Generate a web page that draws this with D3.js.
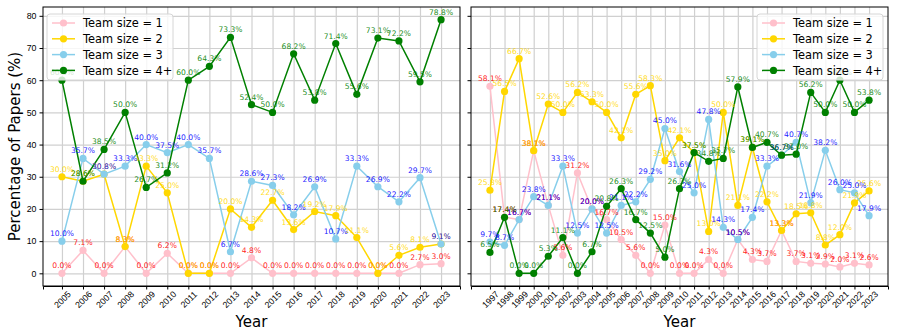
<!DOCTYPE html>
<html>
<head>
<meta charset="utf-8">
<script src="https://cdn.jsdelivr.net/npm/d3@7"></script>
<style>
  body { margin: 0; background: #fff; }
  svg { display: block; font-family: "DejaVu Sans", sans-serif; }
  .grid line { stroke: #d0d0d0; stroke-width: 1.2; }
  .grid path { display: none; }
  .axis path, .axis line { stroke: #000; }
  .axis text { font-size: 8.8px; fill: #000; }
</style>
</head>
<body>
<div id="chart"></div>
<script>
// series names and colours
var seriesNames = ['Team size = 1', 'Team size = 2', 'Team size = 3', 'Team size = 4+'];
var lineColors = ['pink', '#FFD700', 'skyblue', 'green'];
var textColors = ['red', '#FFD700', 'blue', 'green'];

// left panel
var yearsLeft = [2005, 2006, 2007, 2008, 2009, 2010, 2011, 2012, 2013, 2014,
	2015, 2016, 2017, 2018, 2019, 2020, 2021, 2022, 2023];
var leftSize1 = [0.0, 7.1, 0.0, 8.3, 0.0, 6.2, 0.0, 0.0, 0.0, 4.8, 0.0, 0.0, 0.0, 0.0, 0.0, 0.0, 0.0, 2.7, 3.0];
var leftSize2 = [30.0, 28.6, 30.8, 8.3, 33.3, 25.0, 0.0, 0.0, 20.0, 14.3, 22.7, 13.6, 19.2, 17.9, 11.1, 0.0, 5.6, 8.1, 9.1];
var leftSize3 = [10.0, 35.7, 30.8, 33.3, 40.0, 37.5, 40.0, 35.7, 6.7, 28.6, 27.3, 18.2, 26.9, 10.7, 33.3, 26.9, 22.2, 29.7, 9.1];
var leftSize4 = [60.0, 28.6, 38.5, 50.0, 26.7, 31.2, 60.0, 64.3, 73.3, 52.4, 50.0, 68.2, 53.8, 71.4, 55.6, 73.1, 72.2, 59.5, 78.8];

// right panel
var yearsRight = [1997, 1998, 1999, 2000, 2001, 2002, 2003, 2004, 2005, 2006,
	2007, 2008, 2009, 2010, 2011, 2012, 2013, 2014, 2015, 2016,
	2017, 2018, 2019, 2020, 2021, 2022, 2023];
var rightSize1 = [58.1, 17.4, 16.7, 38.1, 21.1, 5.6, 31.2, 20.0, 16.7, 10.5, 5.6, 0.0, 15.0, 0.0, 0.0, 4.3, 0.0, 10.5, 4.3, 3.7, 13.3, 3.7, 3.1, 2.9, 2.0, 3.1, 2.6];
var rightSize2 = [25.8, 56.5, 66.7, 38.1, 52.6, 50.0, 56.2, 53.3, 50.0, 42.1, 55.6, 58.3, 35.0, 42.1, 37.5, 13.0, 50.0, 21.1, 39.1, 22.2, 13.3, 18.5, 18.8, 8.8, 12.0, 21.9, 25.6];
var rightSize3 = [9.7, 8.7, 16.7, 23.8, 21.1, 33.3, 12.5, 20.0, 12.5, 21.1, 22.2, 29.2, 45.0, 31.6, 25.0, 47.8, 14.3, 10.5, 17.4, 33.3, 36.7, 40.7, 21.9, 38.2, 26.0, 25.0, 17.9];
var rightSize4 = [6.5, 17.4, 0.0, 0.0, 5.3, 11.1, 0.0, 6.7, 20.8, 26.3, 16.7, 12.5, 5.0, 26.3, 37.5, 34.8, 35.7, 57.9, 39.1, 40.7, 36.7, 37.0, 56.2, 50.0, 60.0, 50.0, 53.8];

var yTicks = [0, 10, 20, 30, 40, 50, 60, 70, 80];

var width = 897, height = 336;
var plotTop = 7, plotBottom = 286;

var svg = d3.select('#chart').append('svg')
	.attr('width', width)
	.attr('height', height);

// shared y scale (both panels use the same limits)
var allVals = [].concat(leftSize1, leftSize2, leftSize3, leftSize4,
	rightSize1, rightSize2, rightSize3, rightSize4);
var yMin = d3.min(allVals), yMax = d3.max(allVals);
var yPad = (yMax - yMin) * 0.05;
var yScale = d3.scaleLinear()
	.domain([yMin - yPad, yMax + yPad])
	.range([plotBottom, plotTop]);

function drawPanel(x0, x1, years, series, showYLabels, legendSide) {
	var pad = (d3.max(years) - d3.min(years)) * 0.05;
	var xScale = d3.scaleLinear()
		.domain([d3.min(years) - pad, d3.max(years) + pad])
		.range([x0, x1]);

	var g = svg.append('g');

	// grid
	g.append('g')
		.attr('class', 'grid')
		.attr('transform', 'translate(0,' + plotBottom + ')')
		.call(d3.axisBottom(xScale).tickValues(years).tickSize(-(plotBottom - plotTop)).tickFormat(''));
	g.append('g')
		.attr('class', 'grid')
		.attr('transform', 'translate(' + x0 + ',0)')
		.call(d3.axisLeft(yScale).tickValues(yTicks).tickSize(-(x1 - x0)).tickFormat(''));

	// lines + markers
	series.forEach(function(vals, i) {
		var pts = years.map(function(y, j) { return [y, vals[j]]; });
		var line = d3.line()
			.x(function(d) { return xScale(d[0]); })
			.y(function(d) { return yScale(d[1]); });
		g.append('path')
			.datum(pts)
			.attr('d', line)
			.attr('fill', 'none')
			.attr('stroke', lineColors[i])
			.attr('stroke-width', 1.5);
		g.selectAll('.dot' + i)
			.data(pts)
			.enter().append('circle')
			.attr('cx', function(d) { return xScale(d[0]); })
			.attr('cy', function(d) { return yScale(d[1]); })
			.attr('r', 3.6)
			.attr('fill', lineColors[i]);
	});

	// value labels above points
	series.forEach(function(vals, i) {
		var pts = years.map(function(y, j) { return [y, vals[j]]; });
		g.selectAll('.lab' + i)
			.data(pts)
			.enter().append('text')
			.attr('x', function(d) { return xScale(d[0]); })
			.attr('y', function(d) { return yScale(d[1]) - 5; })
			.attr('text-anchor', 'middle')
			.attr('font-size', '7.6px')
			.attr('fill', textColors[i])
			.attr('fill-opacity', 0.9)
			.text(function(d) { return d[1].toFixed(1) + '%'; });
	});

	// axes
	var xAxis = g.append('g')
		.attr('class', 'axis')
		.attr('transform', 'translate(0,' + plotBottom + ')')
		.call(d3.axisBottom(xScale).tickValues(years).tickFormat(d3.format('d')).tickSizeOuter(0).tickSize(3.5));
	xAxis.selectAll('text')
		.attr('text-anchor', 'middle')
		.attr('dy', '0.35em')
		.attr('y', 0)
		.attr('transform', 'translate(0,13.5) rotate(-45)');

	var yAxis = g.append('g')
		.attr('class', 'axis')
		.attr('transform', 'translate(' + x0 + ',0)')
		.call(d3.axisLeft(yScale).tickValues(yTicks).tickSizeOuter(0).tickSize(3.5)
			.tickFormat(showYLabels ? d3.format('d') : ''));
	yAxis.select('.domain').remove();

	// frame
	g.append('rect')
		.attr('x', x0).attr('y', plotTop)
		.attr('width', x1 - x0).attr('height', plotBottom - plotTop)
		.attr('fill', 'none').attr('stroke', '#000').attr('stroke-width', 1);

	svg.append('text')
		.attr('x', (x0 + x1) / 2)
		.attr('y', 327)
		.attr('text-anchor', 'middle')
		.attr('font-size', '15px')
		.text('Year');

	// legend
	var lw = 126, lh = 66;
	var lx = legendSide === 'left' ? x0 + 4 : x1 - 5 - lw;
	var ly = plotTop + 7;
	var leg = g.append('g').attr('transform', 'translate(' + lx + ',' + ly + ')');
	leg.append('rect')
		.attr('width', lw).attr('height', lh)
		.attr('rx', 3)
		.attr('fill', '#fff').attr('fill-opacity', 0.8)
		.attr('stroke', '#d6d6d6');
	seriesNames.forEach(function(name, i) {
		var yy = 9 + i * 15.8;
		leg.append('line')
			.attr('x1', 5).attr('x2', 28)
			.attr('y1', yy).attr('y2', yy)
			.attr('stroke', lineColors[i]).attr('stroke-width', 1.5);
		leg.append('circle')
			.attr('cx', 16.5).attr('cy', yy).attr('r', 3.6)
			.attr('fill', lineColors[i]);
		leg.append('text')
			.attr('x', 36).attr('y', yy + 4.2)
			.attr('font-size', '11.4px')
			.text(name);
	});
}

drawPanel(43, 460, yearsLeft, [leftSize1, leftSize2, leftSize3, leftSize4], true, 'left');
drawPanel(471, 888, yearsRight, [rightSize1, rightSize2, rightSize3, rightSize4], false, 'right');

svg.append('text')
	.attr('transform', 'translate(20,' + ((plotTop + plotBottom) / 2) + ') rotate(-90)')
	.attr('text-anchor', 'middle')
	.attr('font-size', '15px')
	.text('Percentage of Papers (%)');
</script>
</body>
</html>
